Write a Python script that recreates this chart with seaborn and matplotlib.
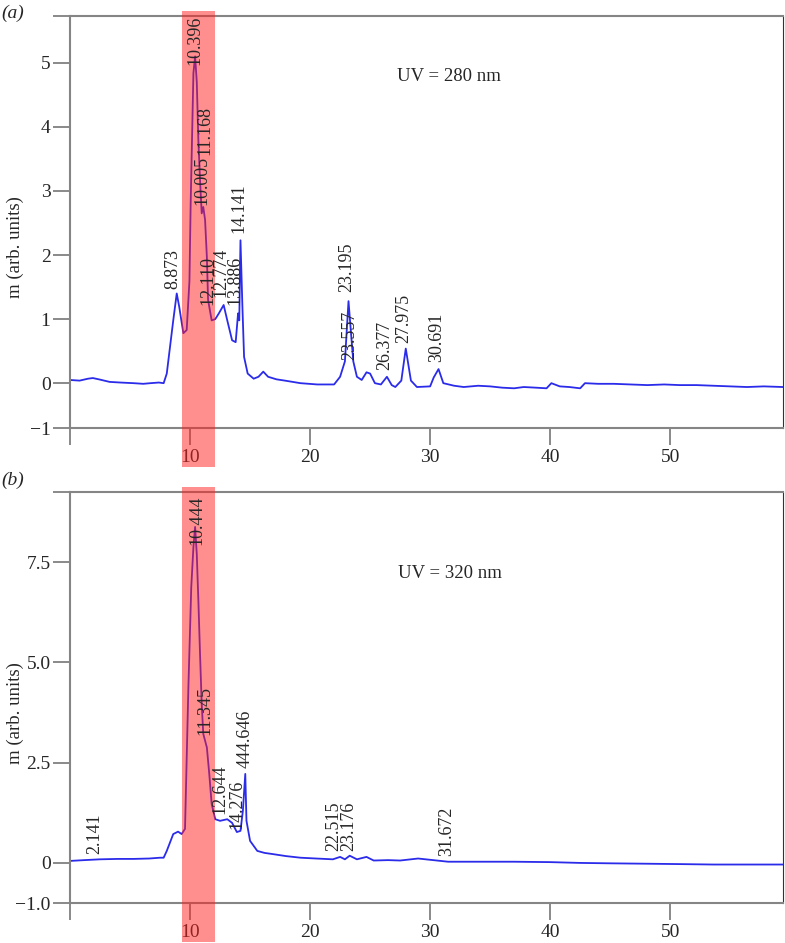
import numpy as np
import pandas as pd
import matplotlib
matplotlib.use('Agg')
import matplotlib.pyplot as plt
import seaborn as sns

# Panel (a): UV 280 nm trace (retention time in min, signal)
time_a = [0.0, 0.8, 1.5, 1.9, 2.4, 3.3, 4.2, 5.3, 6.1, 6.7, 7.4, 7.8, 8.06, 8.3, 8.6, 8.89,
          9.1, 9.44, 9.72, 9.95, 10.05, 10.28, 10.42, 10.56, 10.69, 10.83, 10.97, 11.1,
          11.25, 11.4, 11.5, 11.8, 12.1, 12.4, 12.8, 13.1, 13.5, 13.8, 14.0, 14.1, 14.2,
          14.36, 14.5, 14.8, 15.3, 15.7, 16.1, 16.5, 17.2, 17.9, 19.2, 20.6, 22.0, 22.5,
          22.9, 23.2, 23.4, 23.6, 23.9, 24.3, 24.7, 25.0, 25.4, 25.9, 26.4, 26.8, 27.1,
          27.6, 27.97, 28.4, 28.9, 30.0, 30.3, 30.7, 31.1, 32.0, 32.8, 34.0, 35.0, 36.0,
          37.0, 37.8, 38.8, 39.7, 40.1, 40.8, 41.6, 42.5, 42.9, 44.0, 45.3, 46.7, 48.1,
          49.5, 50.8, 52.2, 53.6, 55.0, 56.4, 57.8, 59.4]
signal_a = [0.05, 0.04, 0.07, 0.08, 0.06, 0.02, 0.01, 0.0, -0.01, 0.0, 0.01, 0.0, 0.15, 0.52, 0.98, 1.40,
            1.19, 0.78, 0.83, 1.6, 2.8, 4.84, 5.1, 4.7, 3.8, 3.17, 2.65, 2.75,
            2.55, 1.97, 1.3, 0.98, 1.0, 1.09, 1.22, 0.98, 0.67, 0.64, 1.09, 0.98, 2.23,
            1.2, 0.41, 0.15, 0.07, 0.1, 0.18, 0.1, 0.06, 0.04, 0.0, -0.02, -0.02, 0.1,
            0.34, 1.28, 0.8, 0.34, 0.1, 0.05, 0.17, 0.15, 0.0, -0.02, 0.1, -0.03, -0.06,
            0.04, 0.54, 0.04, -0.06, -0.05, 0.09, 0.22, 0.0, -0.04, -0.06, -0.04, -0.05, -0.07,
            -0.08, -0.06, -0.07, -0.08, 0.0, -0.05, -0.06, -0.08, 0.0, -0.01, -0.01, -0.02, -0.03,
            -0.02, -0.03, -0.03, -0.04, -0.05, -0.06, -0.05, -0.06]

# Panel (b): UV 320 nm trace
time_b = [0.0, 1.2, 2.5, 4.0, 5.3, 6.6, 7.5, 7.8, 8.06, 8.6, 9.0, 9.3, 9.58, 9.86, 10.1,
          10.28, 10.42, 10.56, 10.7, 10.83, 10.97, 11.1, 11.4, 11.6, 11.8, 12.1, 12.5,
          13.1, 13.5, 13.9, 14.2, 14.4, 14.6, 14.7, 15.0, 15.6, 16.2, 16.9, 18.0, 19.2,
          20.5, 21.9, 22.5, 22.9, 23.3, 23.9, 24.7, 25.3, 26.5, 27.5, 29.0, 31.5, 34.0,
          37.0, 40.0, 42.5, 45.0, 48.1, 51.0, 53.6, 56.5, 59.4]
signal_b = [0.05, 0.07, 0.09, 0.1, 0.1, 0.11, 0.13, 0.13, 0.3, 0.72, 0.78, 0.72, 0.85, 4.38, 6.88,
            7.88, 8.38, 7.7, 6.47, 5.22, 3.97, 3.22, 2.88, 2.22, 1.47, 1.09, 1.05,
            1.09, 1.0, 0.77, 0.8, 1.3, 2.22, 1.05, 0.55, 0.3, 0.25, 0.22, 0.17, 0.13,
            0.11, 0.09, 0.15, 0.09, 0.18, 0.09, 0.15, 0.06, 0.07, 0.06, 0.11, 0.03, 0.03,
            0.03, 0.02, 0.0, -0.01, -0.02, -0.03, -0.04, -0.04, -0.04]

# peak labels: (text, x, y of the label base)
peaks_a = [('8.873', 8.6, 1.47), ('10.396', 10.4, 4.97), ('10.005', 10.97, 2.78),
           ('11.168', 11.25, 3.56), ('12.110', 11.5, 1.22), ('12.774', 12.6, 1.35),
           ('13.886', 13.75, 1.22), ('14.141', 14.1, 2.34), ('23.195', 23.05, 1.43),
           ('23.557', 23.3, 0.36), ('26.377', 26.25, 0.2), ('27.975', 27.8, 0.62),
           ('30.691', 30.5, 0.33)]
peaks_b = [('2.141', 2.03, 0.22), ('10.444', 10.56, 7.93), ('11.345', 11.25, 3.18),
           ('12.644', 12.5, 1.22), ('14.276', 13.9, 0.84), ('444.646', 14.6, 2.38),
           ('22.515', 21.95, 0.3), ('23.176', 23.2, 0.3), ('31.672', 31.4, 0.18)]

highlight = (9.33, 12.1)
x_ticks = [0, 10, 20, 30, 40, 50]
x_tick_labels = ['', '10', '20', '30', '40', '50']
y_ticks_a = [-0.7, 0, 1, 2, 3, 4, 5, 5.73]
y_labels_a = ['\u22121', '0', '1', '2', '3', '4', '5', '']
y_ticks_b = [-1.0, 0, 2.5, 5.0, 7.5, 9.25]
y_labels_b = ['\u22121.0', '0', '2.5', '5.0', '7.5', '']

sns.set_style('white')
plt.rcParams['font.family'] = ['Liberation Serif', 'DejaVu Serif']

fig = plt.figure(figsize=(7.85, 9.43), dpi=100)
ax_a = fig.add_axes([0.0892, 0.5461, 0.9083, 0.4369])
ax_b = fig.add_axes([0.0892, 0.0424, 0.9083, 0.4358])

panels = [
    (ax_a, time_a, signal_a, peaks_a, (-0.7, 5.73), y_ticks_a, y_labels_a, 'UV = 280 nm', (27.25, 4.78), '(a)', 0.986, 0.738),
    (ax_b, time_b, signal_b, peaks_b, (-1.0, 9.25), y_ticks_b, y_labels_b, 'UV = 320 nm', (27.3, 7.22), '(b)', 0.491, 0.244),
]

for ax, t, s, peaks, ylim, yt, ytl, uv, uv_pos, tag, tag_y, lab_y in panels:
    df = pd.DataFrame({'time': t, 'signal': s})
    sns.lineplot(data=df, x='time', y='signal', ax=ax, color='#2b2bea', lw=1.3, zorder=2)
    ax.axvspan(highlight[0], highlight[1], ymin=-0.095, ymax=1.012, color='#ff2020',
               alpha=0.5, lw=0, clip_on=False, zorder=3)
    for txt, px, py in peaks:
        ax.text(px, py, txt, rotation=90, ha='center', va='bottom', fontsize=13, zorder=4)
    ax.text(uv_pos[0], uv_pos[1], uv, fontsize=13.5, va='center', ha='left')

    ax.set_xlim(0, 59.4)
    ax.set_ylim(*ylim)
    ax.set_xticks(x_ticks)
    ax.set_xticklabels(x_tick_labels)
    ax.set_yticks(yt)
    ax.set_yticklabels(ytl)
    ax.set_xlabel('')
    ax.set_ylabel('')
    ax.tick_params(axis='both', which='major', direction='out', length=12, width=1.3,
                   color='#808080', labelsize=14, pad=2, left=True, bottom=True)
    ax.tick_params(axis='x', pad=3)
    for side in ['left', 'top', 'bottom']:
        ax.spines[side].set_color('#858585')
        ax.spines[side].set_linewidth(1.5)
    ax.spines['right'].set_color('#333333')
    ax.spines['right'].set_linewidth(0.8)

    fig.text(0.002, tag_y, tag, fontsize=14, style='italic', va='center', ha='left')
    fig.text(0.019, lab_y, 'm (arb. units)', fontsize=13.5, rotation=90, va='center', ha='center')

fig.savefig('out.png', dpi=100)
